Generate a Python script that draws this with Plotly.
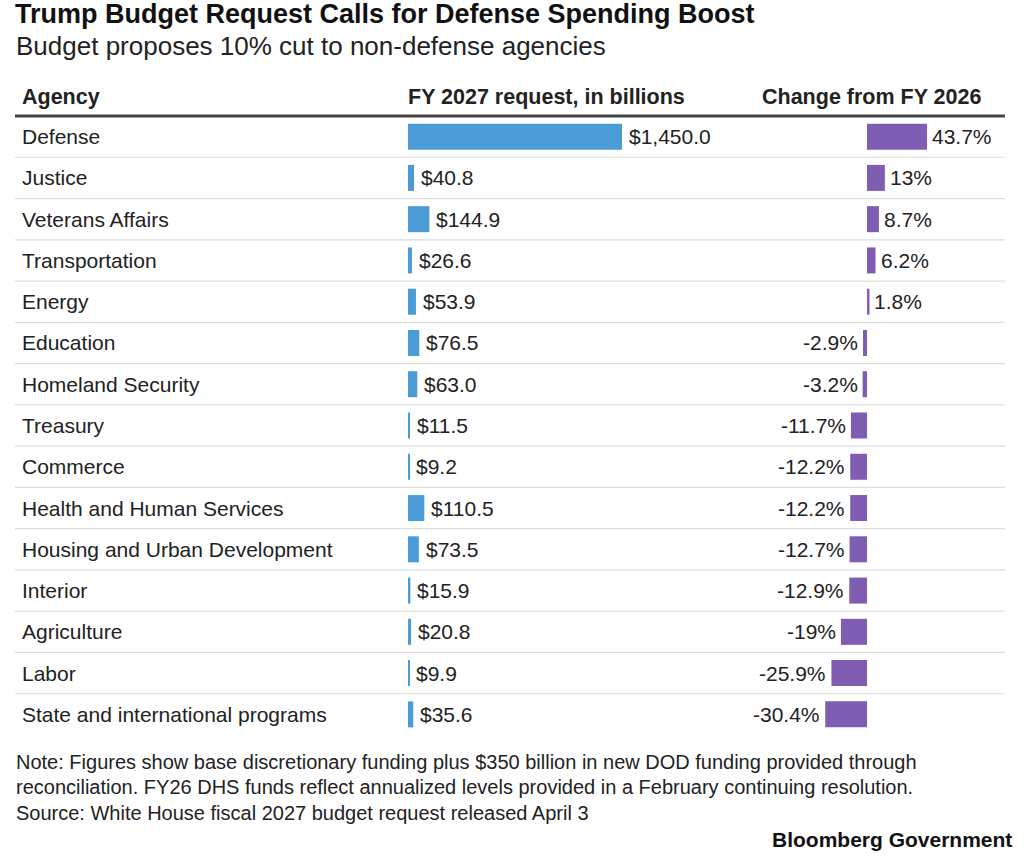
import plotly.graph_objects as go

agencies = ["Defense", "Justice", "Veterans Affairs", "Transportation", "Energy",
            "Education", "Homeland Security", "Treasury", "Commerce",
            "Health and Human Services", "Housing and Urban Development",
            "Interior", "Agriculture", "Labor", "State and international programs"]
request_fy27 = [1450.0, 40.8, 144.9, 26.6, 53.9, 76.5, 63.0, 11.5, 9.2,
                110.5, 73.5, 15.9, 20.8, 9.9, 35.6]
change_pct = [43.7, 13, 8.7, 6.2, 1.8, -2.9, -3.2, -11.7, -12.2, -12.2,
              -12.7, -12.9, -19, -25.9, -30.4]
request_labels = ["$1,450.0", "$40.8", "$144.9", "$26.6", "$53.9", "$76.5",
                  "$63.0", "$11.5", "$9.2", "$110.5", "$73.5", "$15.9",
                  "$20.8", "$9.9", "$35.6"]
change_labels = ["43.7%", "13%", "8.7%", "6.2%", "1.8%", "-2.9%", "-3.2%",
                 "-11.7%", "-12.2%", "-12.2%", "-12.7%", "-12.9%", "-19%",
                 "-25.9%", "-30.4%"]

W, H = 1024, 864
FONT = "Liberation Sans, Arial, sans-serif"
TXT = "#222222"
BLUE = "#4a9bd6"
PURPLE = "#7f5db3"

def px(x):
    return x / W

def py(y):
    return 1 - y / H

n = len(agencies)
ys = list(range(n))

# pixel geometry
row_top, row_bot = 116, 735
blue_x0, blue_scale = 408, 214 / 1450.0
blue_dom = (408, 745)
pur_zero, pur_scale = 867, 60 / 43.7
pur_dom = (770, 1005)

fig = go.Figure()
fig.add_trace(go.Bar(x=request_fy27, y=ys, orientation="h", marker_color=BLUE,
                     marker_line_width=0, width=0.63, xaxis="x", yaxis="y",
                     hoverinfo="skip"))
fig.add_trace(go.Bar(x=change_pct, y=ys, orientation="h", marker_color=PURPLE,
                     marker_line_width=0, width=0.63, xaxis="x2", yaxis="y",
                     hoverinfo="skip"))

annotations = []
for i in range(n):
    annotations.append(dict(x=px(20), xref="paper", y=i, yref="y", text=agencies[i],
                            showarrow=False, xanchor="left", yanchor="middle",
                            font=dict(family=FONT, size=21, color=TXT)))
    annotations.append(dict(x=request_fy27[i], xref="x", y=i, yref="y",
                            text=request_labels[i], showarrow=False,
                            xanchor="left", yanchor="middle", xshift=5,
                            font=dict(family=FONT, size=21, color=TXT)))
    v = change_pct[i]
    annotations.append(dict(x=v, xref="x2", y=i, yref="y", text=change_labels[i],
                            showarrow=False,
                            xanchor="left" if v >= 0 else "right",
                            yanchor="middle", xshift=3 if v >= 0 else -3,
                            font=dict(family=FONT, size=21, color=TXT)))

# header
for x, t in [(20, "Agency"), (406, "FY 2027 request, in billions"), (760, "Change from FY 2026")]:
    annotations.append(dict(x=px(x), xref="paper", y=py(97), yref="paper",
                            text="<b>" + t + "</b>", showarrow=False,
                            xanchor="left", yanchor="middle",
                            font=dict(family=FONT, size=21.5, color=TXT)))

# titles
annotations.append(dict(x=px(13), xref="paper", y=py(14), yref="paper",
                        text="<b>Trump Budget Request Calls for Defense Spending Boost</b>",
                        showarrow=False, xanchor="left", yanchor="middle",
                        font=dict(family=FONT, size=27, color="#111111")))
annotations.append(dict(x=px(14), xref="paper", y=py(46), yref="paper",
                        text="Budget proposes 10% cut to non-defense agencies",
                        showarrow=False, xanchor="left", yanchor="middle",
                        font=dict(family=FONT, size=26, color=TXT)))

# notes
notes = [(762, "Note: Figures show base discretionary funding plus $350 billion in new DOD funding provided through"),
         (787, "reconciliation. FY26 DHS funds reflect annualized levels provided in a February continuing resolution."),
         (813, "Source: White House fiscal 2027 budget request released April 3")]
for y, t in notes:
    annotations.append(dict(x=px(14), xref="paper", y=py(y), yref="paper", text=t,
                            showarrow=False, xanchor="left", yanchor="middle",
                            font=dict(family=FONT, size=20, color=TXT)))
annotations.append(dict(x=px(1014), xref="paper", y=py(839), yref="paper",
                        text="<b>Bloomberg Government</b>", showarrow=False,
                        xanchor="right", yanchor="middle",
                        font=dict(family=FONT, size=21, color="#111111")))

shapes = [dict(type="line", xref="paper", yref="paper", x0=px(15), x1=px(1005),
               y0=py(116), y1=py(116), line=dict(color="#444444", width=3))]
for i in range(n - 1):
    shapes.append(dict(type="line", xref="paper", yref="y", x0=px(15), x1=px(1005),
                       y0=i + 0.5, y1=i + 0.5, line=dict(color="#dcdcdc", width=1.2)))

fig.update_layout(
    width=W, height=H, margin=dict(l=0, r=0, t=0, b=0),
    paper_bgcolor="white", plot_bgcolor="white", showlegend=False,
    barmode="overlay",
    xaxis=dict(domain=[px(blue_dom[0]), px(blue_dom[1])],
               range=[(blue_dom[0] - blue_x0) / blue_scale, (blue_dom[1] - blue_x0) / blue_scale],
               visible=False, fixedrange=True),
    xaxis2=dict(domain=[px(pur_dom[0]), px(pur_dom[1])],
                range=[(pur_dom[0] - pur_zero) / pur_scale, (pur_dom[1] - pur_zero) / pur_scale],
                visible=False, fixedrange=True, anchor="y"),
    yaxis=dict(domain=[py(row_bot), py(row_top)], range=[n - 0.5, -0.5],
               visible=False, fixedrange=True),
    annotations=annotations, shapes=shapes,
)

fig.write_html("out.html")
